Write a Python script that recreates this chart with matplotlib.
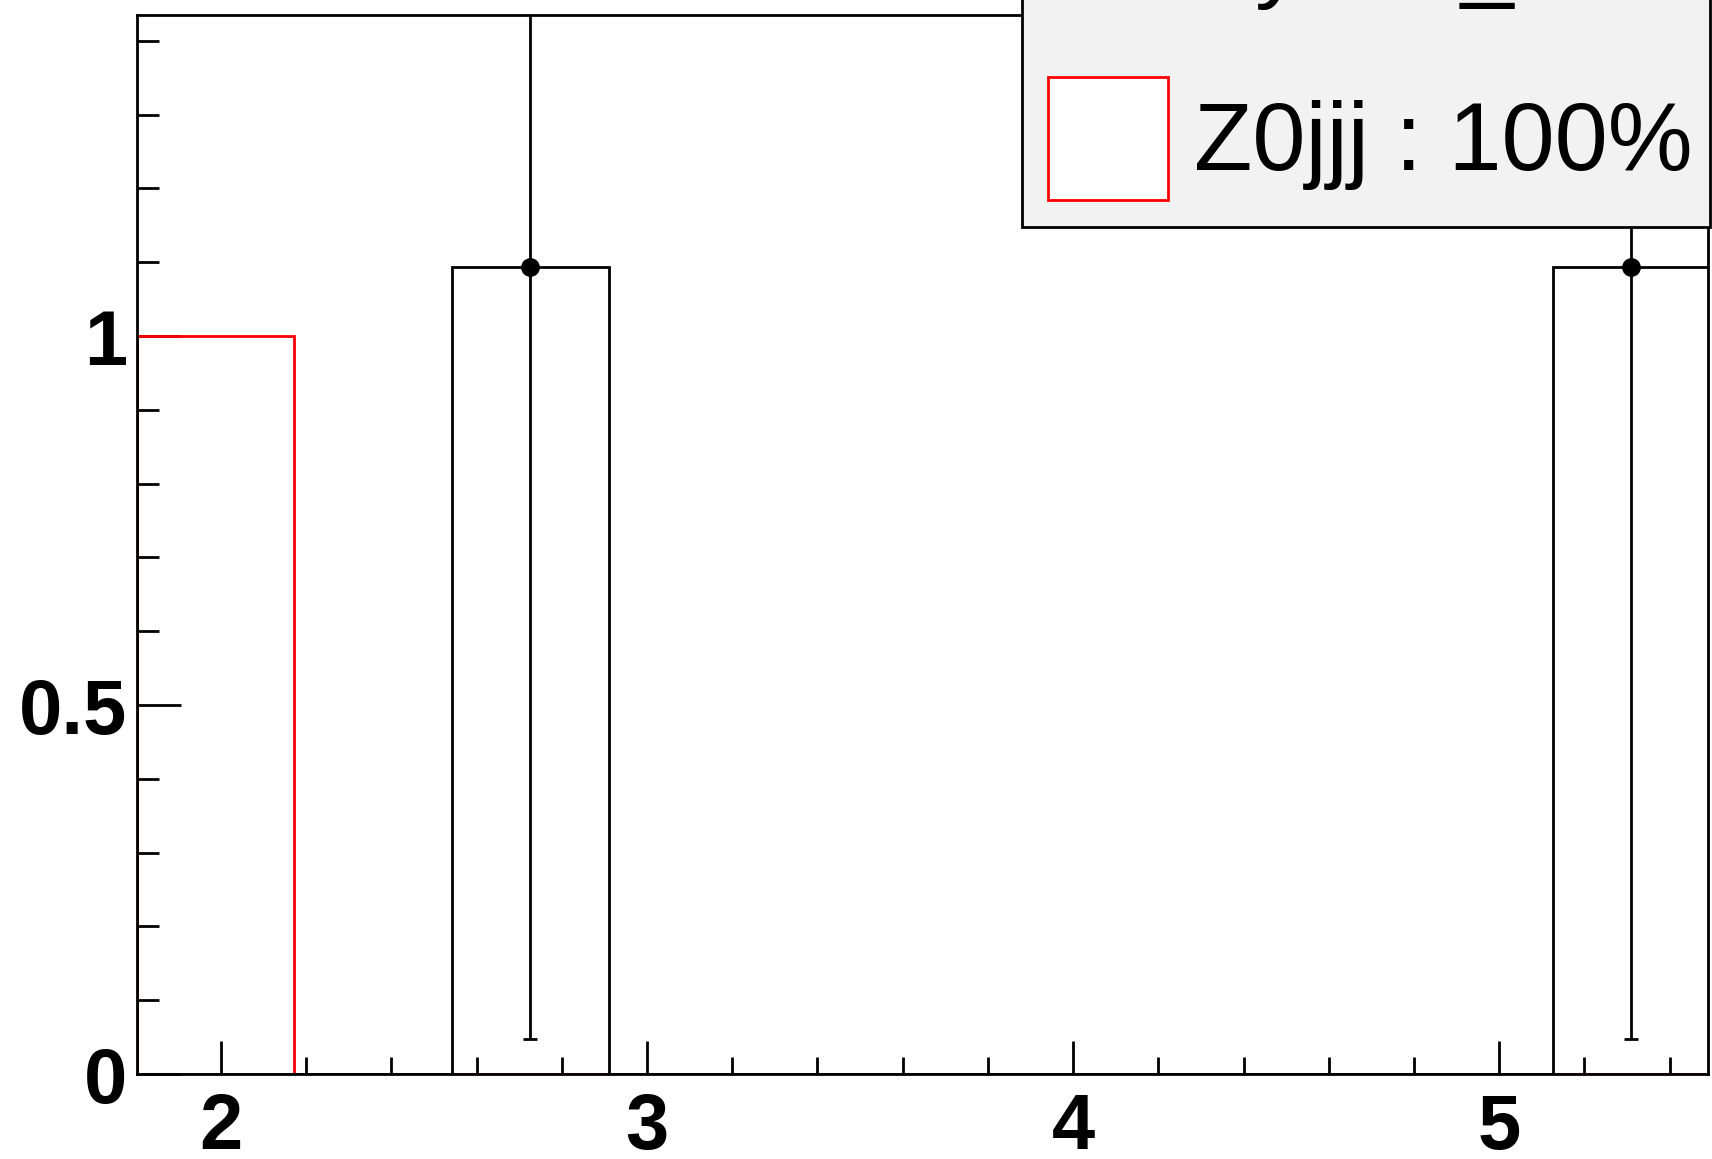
import numpy as np
import matplotlib
matplotlib.use("Agg")
import matplotlib.pyplot as plt
from matplotlib.patches import Rectangle
from matplotlib.ticker import MultipleLocator

# ---- data ----
bin_edges = np.linspace(1.803, 5.495, 11)
mc_z0jjj = [1.0, 0, 0, 0, 0, 0, 0, 0, 0, 0]
data_counts = [0, 0, 1.093, 0, 0, 0, 0, 0, 0, 1.093]
legend_label = "Z0jjj : 100%"
legend_label_top = "Zy : 1 _"
x_ticks = [2, 3, 4, 5]
y_ticks = [0, 0.5, 1]
y_tick_labels = ["0", "0.5", "1"]

W, H = 1712, 1159
fig = plt.figure(figsize=(W / 100, H / 100), dpi=100)
ax = fig.add_axes([137 / W, 1 - 1074 / H, (1708 - 137) / W, (1074 - 15) / H])

ax.stairs(mc_z0jjj, bin_edges, color="#ff0000", linewidth=2, zorder=2)
ax.stairs(data_counts, bin_edges, color="black", linewidth=2, zorder=3)

centers = 0.5 * (bin_edges[:-1] + bin_edges[1:])
dc = np.array(data_counts)
mask = dc > 0
ax.errorbar(centers[mask], dc[mask], yerr=np.sqrt(dc[mask]), fmt="o",
            color="black", markersize=12.5, elinewidth=2, capsize=5,
            capthick=2, zorder=4)

ax.set_xlim(1.803, 5.49)
ax.set_ylim(0, 1.435)

for s in ["left", "bottom", "top", "right"]:
    ax.spines[s].set_linewidth(2)
    ax.spines[s].set_zorder(5)

ax.set_xticks(x_ticks)
ax.set_yticks(y_ticks)
ax.set_yticklabels(y_tick_labels)
ax.xaxis.set_minor_locator(MultipleLocator(0.2))
ax.yaxis.set_minor_locator(MultipleLocator(0.1))
ax.tick_params(axis="both", which="both", direction="in", top=False, right=False,
               width=2, color="black")
ax.tick_params(axis="x", which="major", length=24, pad=13)
ax.tick_params(axis="x", which="minor", length=12)
ax.tick_params(axis="y", which="major", length=32, pad=7)
ax.tick_params(axis="y", which="minor", length=16)
for lab in ax.get_xticklabels() + ax.get_yticklabels():
    lab.set_fontfamily("Liberation Sans")
    lab.set_fontweight("bold")
    lab.set_fontsize(56)

# ---- legend box (partially outside the canvas) ----
leg = Rectangle((1022 / W, 1 - 227 / H), (1710 - 1022) / W, 400 / H,
                transform=fig.transFigure, facecolor="#f2f2f2",
                edgecolor="black", linewidth=2, zorder=10)
fig.patches.append(leg)
sq = Rectangle((1048 / W, 1 - 200 / H), (1168 - 1048) / W, (200 - 77) / H,
               transform=fig.transFigure, facecolor="white",
               edgecolor="#ff0000", linewidth=2, zorder=11)
fig.patches.append(sq)
fig.text(1194 / W, 1 - 170 / H, legend_label, fontsize=68.8,
         family="Liberation Sans", va="baseline", ha="left", zorder=12)
fig.text(1197 / W, 1 + 10 / H, legend_label_top, fontsize=68.4,
         family="Liberation Sans", va="baseline", ha="left", zorder=12)

fig.savefig("out.png", dpi=100)
